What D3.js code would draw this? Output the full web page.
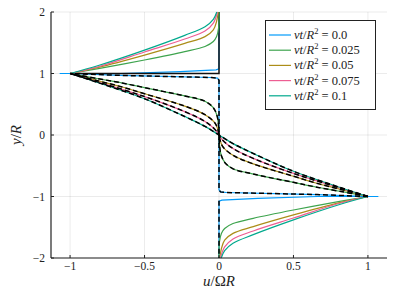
<!DOCTYPE html>
<html><head><meta charset="utf-8">
<script src="https://cdn.jsdelivr.net/npm/d3@7"></script>
<style>body{margin:0;background:#fff}svg{display:block}</style>
</head><body>
<svg id="c" width="399" height="299"></svg>
<script>
// ---- data (u/ΩR, y/R) ----
const times = ["0.0", "0.025", "0.05", "0.075", "0.1"];
const xTicks = [-1, -0.5, 0, 0.5, 1];
const xTickLabels = ["−1", "−0.5", "0", "0.5", "1"];
const yTicks = [-2, -1, 0, 1, 2];
const yTickLabels = ["−2", "−1", "0", "1", "2"];

// t = 0
const innerT0 = [[1.0,-1.0],[0.66,-0.969],[0.05,-0.935],[0.01,-0.925],[0,-0.89],[0,0.89],[-0.01,0.925],[-0.05,0.935],[-0.66,0.969],[-1.0,1.0]];
const outerUpT0 = [[-1.07,1.0],[-0.66,1.0],[-0.26,1.03],[-0.02,1.06],[0,1.075],[0,2]];
const outerLoT0 = [[0,-2],[0,-1.075],[0.02,-1.06],[0.26,-1.03],[0.66,-1.0],[1.07,-1.0]];
// black reference lines at t = 0
const refSolidT0 = [[-0.95,1.0],[0,1.0],[0,2]];
const refDashT0 = [[0,-1.07],[0,-2]];

// νt/R² = 0.025
const innerT1 = [[1,-1],[0.81,-0.915],[0.65,-0.845],[0.5,-0.77],[0.23,-0.635],[0.094,-0.55],[0.04,-0.45],[0.015,-0.33],[0.004,-0.18],[0,0],[-0.004,0.18],[-0.015,0.33],[-0.04,0.45],[-0.094,0.55],[-0.23,0.635],[-0.5,0.77],[-0.65,0.845],[-0.81,0.915],[-1,1]];
const outerUpT1 = [[-1,1],[-0.81,1.08],[-0.5,1.22],[-0.23,1.355],[-0.094,1.44],[-0.038,1.52],[-0.016,1.6],[-0.003,1.74],[0,2]];
const outerLoT1 = [[0,-2],[0.003,-1.74],[0.016,-1.6],[0.038,-1.52],[0.094,-1.44],[0.23,-1.355],[0.5,-1.22],[0.81,-1.08],[1,-1]];
// νt/R² = 0.05
const innerT2 = [[1,-1],[0.81,-0.88],[0.65,-0.78],[0.5,-0.67],[0.23,-0.47],[0.094,-0.33],[0.027,-0.195],[0.008,-0.09],[0,0],[-0.008,0.09],[-0.027,0.195],[-0.094,0.33],[-0.23,0.47],[-0.5,0.67],[-0.65,0.78],[-0.81,0.88],[-1,1]];
const outerUpT2 = [[-1,1],[-0.81,1.1],[-0.5,1.3],[-0.23,1.49],[-0.094,1.6],[-0.038,1.71],[-0.016,1.85],[-0.005,2]];
const outerLoT2 = [[0.005,-2],[0.016,-1.85],[0.038,-1.71],[0.094,-1.6],[0.23,-1.49],[0.5,-1.3],[0.81,-1.1],[1,-1]];
// νt/R² = 0.075
const innerT3 = [[1,-1],[0.81,-0.86],[0.5,-0.625],[0.23,-0.38],[0.094,-0.22],[0.027,-0.09],[0,0],[-0.027,0.09],[-0.094,0.22],[-0.23,0.38],[-0.5,0.625],[-0.81,0.86],[-1,1]];
const outerUpT3 = [[-1,1],[-0.81,1.11],[-0.5,1.35],[-0.23,1.56],[-0.094,1.69],[-0.038,1.82],[-0.01,2]];
const outerLoT3 = [[0.01,-2],[0.038,-1.82],[0.094,-1.69],[0.23,-1.56],[0.5,-1.35],[0.81,-1.11],[1,-1]];
// νt/R² = 0.1
const innerT4 = [[1,-1],[0.81,-0.85],[0.5,-0.59],[0.23,-0.3],[0.094,-0.14],[0,0],[-0.094,0.14],[-0.23,0.3],[-0.5,0.59],[-0.81,0.85],[-1,1]];
const outerUpT4 = [[-1,1],[-0.81,1.13],[-0.5,1.38],[-0.23,1.62],[-0.094,1.76],[-0.038,1.88],[-0.015,2]];
const outerLoT4 = [[0.015,-2],[0.038,-1.88],[0.094,-1.76],[0.23,-1.62],[0.5,-1.38],[0.81,-1.13],[1,-1]];

// ---- build ----
const series = [
  {inner: innerT0, up: outerUpT0, lo: outerLoT0, smooth: false},
  {inner: innerT1, up: outerUpT1, lo: outerLoT1, smooth: true},
  {inner: innerT2, up: outerUpT2, lo: outerLoT2, smooth: true},
  {inner: innerT3, up: outerUpT3, lo: outerLoT3, smooth: true},
  {inner: innerT4, up: outerUpT4, lo: outerLoT4, smooth: true}
];
const colors = ["#009AFA", "#3EA44E", "#AC8D18", "#ED5E93", "#00A98D"];

const svg = d3.select("#c");
const W = 399, H = 299;
const m = {l: 51, r: 12, t: 12, b: 41};
const x = d3.scaleLinear().domain([-1.128, 1.128]).range([m.l, W - m.r]);
const y = d3.scaleLinear().domain([-2, 2]).range([H - m.b, m.t]);
const serif = "'Liberation Serif','DejaVu Serif',serif";

// grid
const g = svg.append("g");
g.selectAll(".gx").data(xTicks).enter().append("line")
  .attr("x1", d => x(d)).attr("x2", d => x(d)).attr("y1", y(-2)).attr("y2", y(2))
  .attr("stroke", "#000").attr("stroke-opacity", 0.1).attr("stroke-width", 0.8);
g.selectAll(".gy").data(yTicks).enter().append("line")
  .attr("x1", x.range()[0]).attr("x2", x.range()[1]).attr("y1", d => y(d)).attr("y2", d => y(d))
  .attr("stroke", "#000").attr("stroke-opacity", 0.1).attr("stroke-width", 0.8);

const lineSmooth = d3.line().x(d => x(d[0])).y(d => y(d[1])).curve(d3.curveCatmullRom.alpha(0.5));
const lineLin = d3.line().x(d => x(d[0])).y(d => y(d[1]));

const plot = svg.append("g");
// colored numeric curves
series.forEach((s, i) => {
  const gen = s.smooth ? lineSmooth : lineLin;
  [s.inner, s.up, s.lo].forEach(pts => {
    plot.append("path").attr("d", gen(pts)).attr("fill", "none")
      .attr("stroke", colors[i]).attr("stroke-width", 1.2);
  });
  if (i === 0) {
    plot.append("path").attr("d", lineLin(refSolidT0)).attr("fill", "none")
      .attr("stroke", "#111").attr("stroke-width", 1.5);
  }
});
// black dashed reference curves
series.forEach((s, i) => {
  const gen = s.smooth ? lineSmooth : lineLin;
  plot.append("path").attr("d", gen(s.inner)).attr("fill", "none")
    .attr("stroke", "#000").attr("stroke-width", 1.5).attr("stroke-dasharray", "5,3");
});
plot.append("path").attr("d", lineLin(refDashT0)).attr("fill", "none")
  .attr("stroke", "#000").attr("stroke-width", 1.5).attr("stroke-dasharray", "5,3");

// axes (spines)
const ax = svg.append("g");
ax.append("line").attr("x1", x.range()[0]).attr("x2", x.range()[1])
  .attr("y1", y(-2)).attr("y2", y(-2)).attr("stroke", "#222").attr("stroke-width", 1.2);
ax.append("line").attr("x1", x.range()[0]).attr("x2", x.range()[0])
  .attr("y1", y(-2)).attr("y2", y(2)).attr("stroke", "#222").attr("stroke-width", 1.2);
ax.selectAll(".tx").data(xTicks).enter().append("line")
  .attr("x1", d => x(d)).attr("x2", d => x(d)).attr("y1", y(-2)).attr("y2", y(-2) - 3)
  .attr("stroke", "#222").attr("stroke-width", 1);
ax.selectAll(".ty").data(yTicks).enter().append("line")
  .attr("y1", d => y(d)).attr("y2", d => y(d)).attr("x1", x.range()[0]).attr("x2", x.range()[0] + 3)
  .attr("stroke", "#222").attr("stroke-width", 1);
ax.selectAll(".lx").data(xTicks).enter().append("text")
  .attr("x", d => x(d)).attr("y", y(-2) + 12).attr("text-anchor", "middle")
  .attr("font-family", serif).attr("font-size", 11.5).attr("fill", "#222")
  .text((d, i) => xTickLabels[i]);
ax.selectAll(".ly").data(yTicks).enter().append("text")
  .attr("x", x.range()[0] - 6).attr("y", d => y(d) + 4).attr("text-anchor", "end")
  .attr("font-family", serif).attr("font-size", 11.5).attr("fill", "#222")
  .text((d, i) => yTickLabels[i]);

// axis labels
const xl = svg.append("text").attr("x", x(0)).attr("y", 286).attr("text-anchor", "middle")
  .attr("font-family", serif).attr("font-size", 15).attr("fill", "#222");
xl.append("tspan").attr("font-style", "italic").text("u");
xl.append("tspan").text("/Ω");
xl.append("tspan").attr("font-style", "italic").text("R");
const yl = svg.append("text").attr("transform", `translate(21,${y(0)}) rotate(-90)`)
  .attr("text-anchor", "middle").attr("font-family", serif).attr("font-size", 15).attr("fill", "#222");
yl.append("tspan").attr("font-style", "italic").text("y");
yl.append("tspan").text("/");
yl.append("tspan").attr("font-style", "italic").text("R");

// legend
const lg = svg.append("g");
lg.append("rect").attr("x", 265.5).attr("y", 20.5).attr("width", 110).attr("height", 89)
  .attr("fill", "#fff").attr("stroke", "#222").attr("stroke-width", 1);
times.forEach((t, i) => {
  const cy = 35 + i * 15.2;
  lg.append("line").attr("x1", 269).attr("x2", 291).attr("y1", cy).attr("y2", cy)
    .attr("stroke", colors[i]).attr("stroke-width", 1.2);
  const tx = lg.append("text").attr("x", 294).attr("y", cy + 4)
    .attr("font-family", serif).attr("font-size", 12.5).attr("fill", "#222");
  tx.append("tspan").attr("font-style", "italic").text("νt");
  tx.append("tspan").text("/");
  tx.append("tspan").attr("font-style", "italic").text("R");
  tx.append("tspan").attr("font-size", 8.5).attr("dy", -5).text("2");
  tx.append("tspan").attr("dy", 5).text(" = " + t);
});
</script>
</body></html>
